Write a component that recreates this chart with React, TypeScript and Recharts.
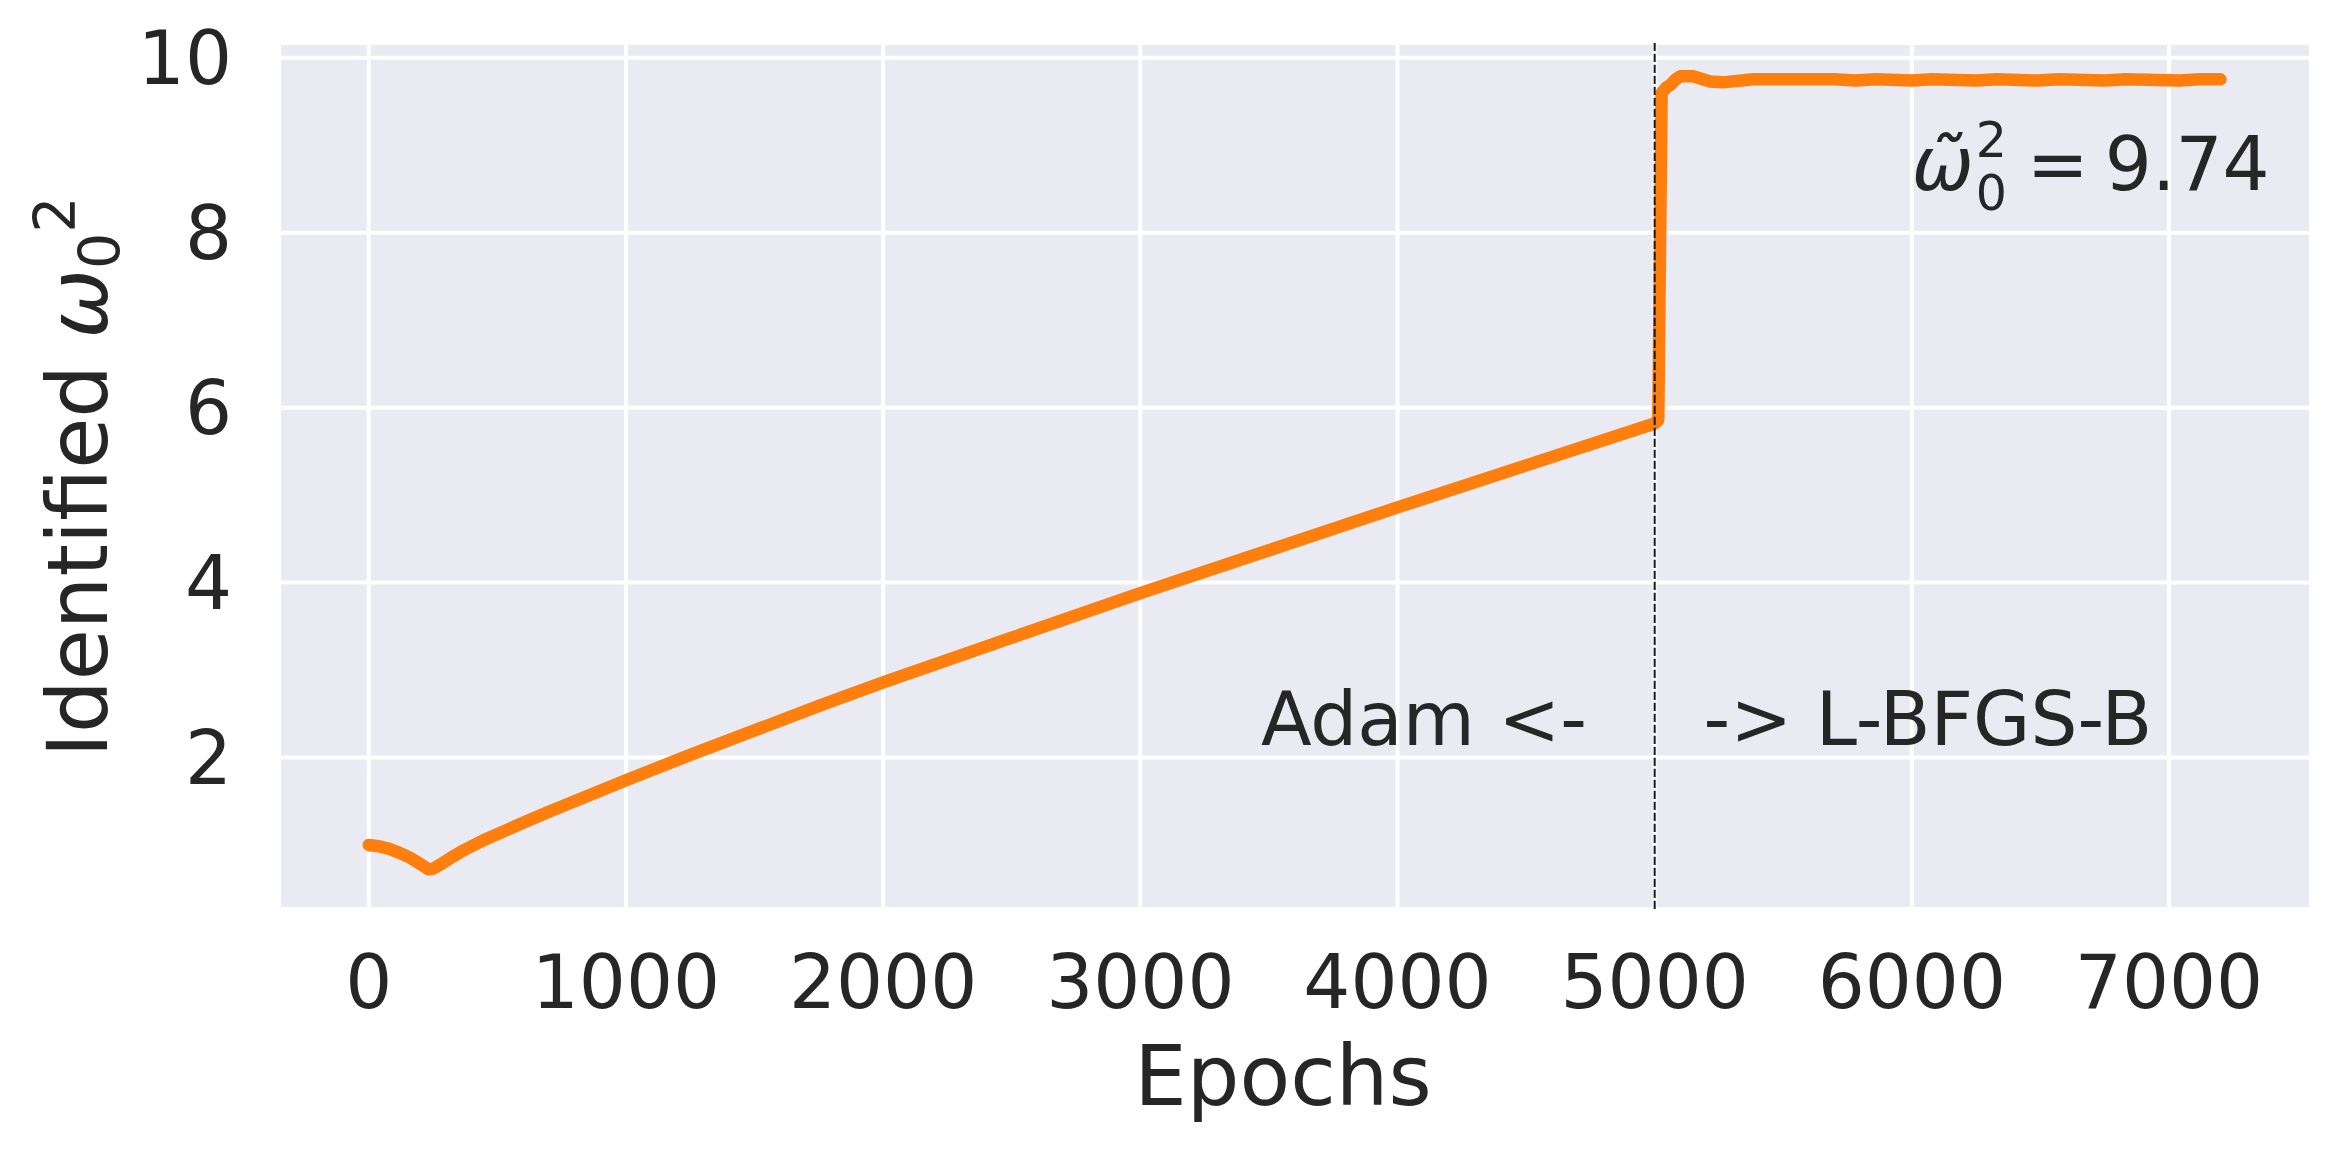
import React from 'react';
import { LineChart, Line, XAxis, YAxis, CartesianGrid, ReferenceLine, ReferenceDot, Label } from 'recharts';

const FONT = '"DejaVu Sans", sans-serif';
const INK = '#262626';

// epochs and identified omega_0^2
const EPOCHS = [
    0, 40, 80, 120, 160, 200, 232, 250, 280, 320, 360, 400, 450, 520, 600, 700, 800, 900, 1000,
    1250, 1500, 1750, 2000, 2500, 3000, 3500, 4000, 4500, 5000,
    5014, 5027, 5045, 5061, 5080, 5100, 5150, 5215, 5266, 5383,
    5550, 5700, 5780, 5860, 6000, 6080, 6250, 6330, 6490, 6570,
    6750, 6830, 7040, 7120, 7200,
];
const OMEGA_SQ = [
    1.0, 0.985, 0.955, 0.91, 0.855, 0.785, 0.72, 0.73, 0.78, 0.855, 0.925, 0.985, 1.06, 1.15, 1.255, 1.38, 1.5, 1.62, 1.74,
    2.03, 2.31, 2.59, 2.86, 3.37, 3.88, 4.37, 4.86, 5.34, 5.82,
    5.86, 9.6, 9.66, 9.69, 9.75, 9.79, 9.79, 9.73, 9.72, 9.755,
    9.755, 9.755, 9.74, 9.755, 9.74, 9.755, 9.74, 9.755, 9.74, 9.755,
    9.74, 9.755, 9.74, 9.755, 9.755,
];

const X_TICKS = [0, 1000, 2000, 3000, 4000, 5000, 6000, 7000];
const Y_TICKS = [2, 4, 6, 8, 10];

const SWITCH_EPOCH = 5000;
const FINAL_VALUE = '9.74';

const data = EPOCHS.map((epoch, i) => ({ epoch, value: OMEGA_SQ[i] }));

const AdamNote = ({ cx, cy }: any) => (
    <text x={cx} y={cy} textAnchor="end" fontSize={74} fill={INK} fontFamily={FONT}>Adam &lt;-</text>
);

const LbfgsNote = ({ cx, cy }: any) => (
    <text x={cx} y={cy} textAnchor="start" fontSize={74} fill={INK} fontFamily={FONT}>-&gt; L-BFGS-B</text>
);

const OmegaNote = ({ cx, cy }: any) => (
    <g fill={INK} fontFamily={FONT}>
        <text x={cx} y={cy} fontSize={74} fontStyle="italic">{'\u03C9\u0303'}</text>
        <text x={cx + 64} y={cy + 20} fontSize={49}>0</text>
        <text x={cx + 64} y={cy - 33} fontSize={49}>2</text>
        <text x={cx + 115} y={cy} fontSize={74}>=</text>
        <text x={cx + 193} y={cy} fontSize={74}>{FINAL_VALUE}</text>
    </g>
);

const XTitle = () => (
    <text x={1283} y={1105} textAnchor="middle" fontSize={83} fill={INK} fontFamily={FONT}>Epochs</text>
);

const YTitle = () => (
    <text x={107} y={477} transform="rotate(-90, 107, 477)" textAnchor="middle" fontSize={83} fill={INK} fontFamily={FONT}>
        Identified <tspan fontStyle="italic">{'\u03C9'}</tspan>
        <tspan fontSize={57} dy={13}>0</tspan>
        <tspan fontSize={57} dy={-45}>2</tspan>
    </text>
);

const App = () => {
    return (
        <div style={{ position: 'absolute', left: 0, top: 0, background: '#fff' }}>
            <LineChart width={2342} height={1151} data={data} margin={{ top: 43, right: 31, bottom: 0, left: 0 }}>
                <CartesianGrid fill="#EAEAF2" stroke="#FFFFFF" strokeWidth={4} />
                <XAxis
                    type="number"
                    dataKey="epoch"
                    domain={[-349, 7552]}
                    ticks={X_TICKS}
                    allowDataOverflow
                    height={242}
                    axisLine={false}
                    tickLine={false}
                    tickSize={0}
                    tickMargin={46}
                    tick={{ fill: INK, fontSize: 74, fontFamily: FONT }}
                >
                    <Label content={<XTitle />} />
                </XAxis>
                <YAxis
                    type="number"
                    domain={[0.268, 10.17]}
                    ticks={Y_TICKS}
                    allowDataOverflow
                    width={279}
                    axisLine={false}
                    tickLine={false}
                    tickSize={0}
                    tickMargin={47}
                    tick={{ fill: INK, fontSize: 74, fontFamily: FONT }}
                >
                    <Label content={<YTitle />} />
                </YAxis>
                <Line
                    type="linear"
                    dataKey="value"
                    stroke="#FF7F0E"
                    strokeWidth={12.5}
                    strokeLinecap="round"
                    strokeLinejoin="round"
                    dot={false}
                    activeDot={false}
                    isAnimationActive={false}
                />
                <ReferenceLine x={SWITCH_EPOCH} stroke="#1a1a1a" strokeWidth={2} strokeDasharray="8.3 2.7" />
                <ReferenceDot x={4737} y={2.14} r={0} shape={<AdamNote />} />
                <ReferenceDot x={5190} y={2.14} r={0} shape={<LbfgsNote />} />
                <ReferenceDot x={6000} y={8.49} r={0} shape={<OmegaNote />} />
            </LineChart>
        </div>
    );
};

export default App;
